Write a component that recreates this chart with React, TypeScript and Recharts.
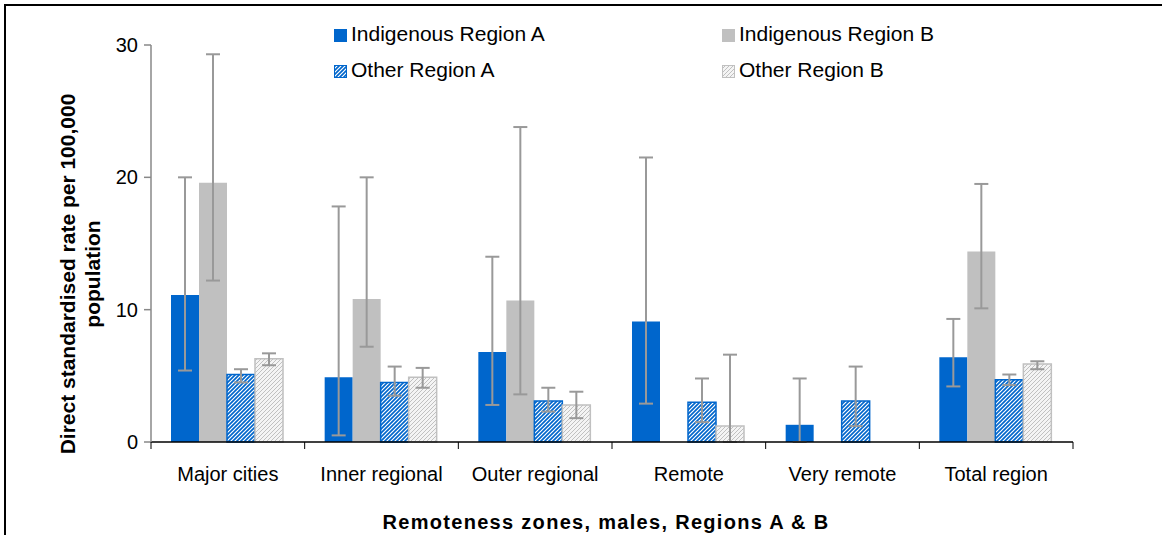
import { BarChart, Bar, XAxis, YAxis, ErrorBar } from 'recharts';

const categories = ['Major cities', 'Inner regional', 'Outer regional', 'Remote', 'Very remote', 'Total region'];

const indigenousA = [11.1, 4.9, 6.8, 9.1, 1.3, 6.4];
const indigenousALow = [5.4, 0.5, 2.8, 2.9, 0.0, 4.2];
const indigenousAHigh = [20.0, 17.8, 14.0, 21.5, 4.8, 9.3];

const indigenousB = [19.6, 10.8, 10.7, null, null, 14.4];
const indigenousBLow = [12.2, 7.2, 3.6, null, null, 10.1];
const indigenousBHigh = [29.3, 20.0, 23.8, null, null, 19.5];

const otherA = [5.1, 4.5, 3.1, 3.0, 3.1, 4.7];
const otherALow = [4.5, 3.5, 2.3, 1.5, 1.2, 4.3];
const otherAHigh = [5.5, 5.7, 4.1, 4.8, 5.7, 5.1];

const otherB = [6.3, 4.9, 2.8, 1.2, null, 5.9];
const otherBLow = [5.8, 4.1, 1.8, 0.0, null, 5.5];
const otherBHigh = [6.7, 5.6, 3.8, 6.6, null, 6.1];

const yTicks = [0, 10, 20, 30];

const err = (v: number | null, lo: number | null, hi: number | null) =>
  v == null || lo == null || hi == null ? null : [v - lo, hi - v];

const data = categories.map((name, i) => ({
  name,
  ia: indigenousA[i],
  iaErr: err(indigenousA[i], indigenousALow[i], indigenousAHigh[i]),
  ib: indigenousB[i],
  ibErr: err(indigenousB[i], indigenousBLow[i], indigenousBHigh[i]),
  oa: otherA[i],
  oaErr: err(otherA[i], otherALow[i], otherAHigh[i]),
  ob: otherB[i],
  obErr: err(otherB[i], otherBLow[i], otherBHigh[i]),
}));

const FONT = '"Liberation Sans", Arial, sans-serif';
const BLUE = '#0066CC';
const GREY = '#C0C0C0';
const ERR = '#999999';

// hatch fills for the "Other" series
function Patterns({ suffix = '' }: { suffix?: string }) {
  return (
    <defs>
      <pattern id={'patA' + suffix} patternUnits="userSpaceOnUse" width="4" height="4">
        <rect width="4" height="4" fill={BLUE} />
        <path d="M0,4 L4,0 M-1,1 L1,-1 M3,5 L5,3" stroke="#ffffff" strokeWidth="1.2" />
      </pattern>
      <pattern id={'patB' + suffix} patternUnits="userSpaceOnUse" width="4" height="4">
        <rect width="4" height="4" fill="#f4f4f4" />
        <path d="M0,4 L4,0 M-1,1 L1,-1 M3,5 L5,3" stroke={GREY} strokeWidth="1" />
      </pattern>
    </defs>
  );
}

function CategoryTick(props: any) {
  const { x, y, payload, index } = props;
  const half = payload && payload.offset ? payload.offset : 76.8;
  return (
    <g>
      <line x1={x - half} y1={y} x2={x - half} y2={y + 7} stroke="#000" strokeWidth={1} />
      {index === categories.length - 1 && (
        <line x1={x + half} y1={y} x2={x + half} y2={y + 7} stroke="#000" strokeWidth={1} />
      )}
      <text x={x} y={y + 39} textAnchor="middle" fontSize={20} fontFamily={FONT} fill="#000">
        {payload.value}
      </text>
    </g>
  );
}

function YTitle() {
  const cy = 274;
  return (
    <g transform="rotate(-90, 0, 0)">
      <text x={-cy} y={75} textAnchor="middle" fontSize={21} fontWeight="bold" fontFamily={FONT} fill="#000">
        Direct standardised rate per 100,000
      </text>
      <text x={-cy} y={100} textAnchor="middle" fontSize={21} fontWeight="bold" fontFamily={FONT} fill="#000">
        population
      </text>
    </g>
  );
}

function XTitle(props: any) {
  const vb = props.viewBox || { x: 151, y: 442, width: 922 };
  return (
    <text
      x={vb.x + vb.width / 2 - 6}
      y={vb.y + 87}
      textAnchor="middle"
      fontSize={20}
      fontWeight="bold"
      letterSpacing={1.3}
      fontFamily={FONT}
      fill="#000"
    >
      Remoteness zones, males, Regions A &amp; B
    </text>
  );
}

const legendItems = [
  { label: 'Indigenous Region A', fill: BLUE, stroke: BLUE, left: 334, top: 21 },
  { label: 'Indigenous Region B', fill: GREY, stroke: GREY, left: 722, top: 21 },
  { label: 'Other Region A', fill: 'url(#patAL)', stroke: BLUE, left: 334, top: 57 },
  { label: 'Other Region B', fill: 'url(#patBL)', stroke: GREY, left: 722, top: 57 },
];

function LegendBox() {
  return (
    <>
      <svg width={0} height={0} style={{ position: 'absolute' }}>
        <Patterns suffix="L" />
      </svg>
      {legendItems.map((it) => (
        <div
          key={it.label}
          style={{
            position: 'absolute',
            left: it.left,
            top: it.top,
            display: 'flex',
            alignItems: 'center',
            fontFamily: FONT,
            fontSize: 21,
            color: '#000',
            whiteSpace: 'nowrap',
            lineHeight: '26px',
          }}
        >
          <svg width={14} height={14} style={{ marginRight: 3, marginTop: 4 }}>
            <rect x={0.5} y={0.5} width={12} height={12} fill={it.fill} stroke={it.stroke} strokeWidth={1} />
          </svg>
          {it.label}
        </div>
      ))}
    </>
  );
}

export default function App() {
  return (
    <div style={{ position: 'absolute', left: 0, top: 0, width: 1162, height: 535, background: '#fff', overflow: 'hidden' }}>
      <div
        style={{
          position: 'absolute',
          left: 4,
          top: 4,
          width: 1200,
          height: 600,
          borderTop: '2px solid #000',
          borderLeft: '2px solid #000',
        }}
      />
      <BarChart
        width={1162}
        height={535}
        data={data}
        margin={{ top: 45, right: 89, bottom: 0, left: 0 }}
        barCategoryGap={20}
        barGap={0}
        style={{ position: 'absolute', left: 0, top: 0 }}
      >
        <Patterns />
        <XAxis
          dataKey="name"
          height={93}
          tickLine={false}
          tickSize={0}
          tickMargin={0}
          axisLine={{ stroke: '#000', strokeWidth: 1.5 }}
          tick={<CategoryTick />}
          interval={0}
          label={<XTitle />}
        />
        <YAxis
          width={151}
          domain={[0, 30]}
          ticks={yTicks}
          tickSize={7}
          tickMargin={6}
          axisLine={{ stroke: '#888', strokeWidth: 1.5 }}
          tickLine={{ stroke: '#888', strokeWidth: 1.5 }}
          tick={{ fill: '#000', fontSize: 20, fontFamily: FONT }}
          label={<YTitle />}
        />
        <Bar dataKey="ia" fill={BLUE} isAnimationActive={false}>
          <ErrorBar dataKey="iaErr" width={7} stroke={ERR} strokeWidth={2} direction="y" />
        </Bar>
        <Bar dataKey="ib" fill={GREY} isAnimationActive={false}>
          <ErrorBar dataKey="ibErr" width={7} stroke={ERR} strokeWidth={2} direction="y" />
        </Bar>
        <Bar dataKey="oa" fill="url(#patA)" stroke={BLUE} strokeWidth={1.5} isAnimationActive={false}>
          <ErrorBar dataKey="oaErr" width={7} stroke={ERR} strokeWidth={2} direction="y" />
        </Bar>
        <Bar dataKey="ob" fill="url(#patB)" stroke={GREY} strokeWidth={1.5} isAnimationActive={false}>
          <ErrorBar dataKey="obErr" width={7} stroke={ERR} strokeWidth={2} direction="y" />
        </Bar>
      </BarChart>
      <LegendBox />
    </div>
  );
}
